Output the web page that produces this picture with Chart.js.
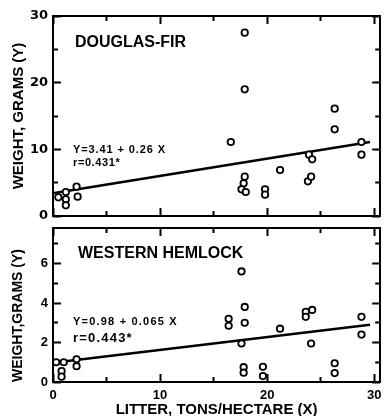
<!DOCTYPE html>
<html>
<head>
<meta charset="utf-8">
<script src="https://cdn.jsdelivr.net/npm/chart.js@4.4.0/dist/chart.umd.min.js"></script>
<style>
body { margin: 0; background: #fff; }
#wrap { position: relative; width: 386px; height: 416px; overflow: hidden; background: #fff; }
canvas { position: absolute; left: 0; }
#top-chart { top: 0; }
#bottom-chart { top: 212px; }
.note { position: absolute; font-family: 'Liberation Sans', Arial, sans-serif; font-weight: bold; color: #000; line-height: 1; white-space: nowrap; }
</style>
</head>
<body>
<div id="wrap">
<canvas id="top-chart" width="386" height="232"></canvas>
<canvas id="bottom-chart" width="386" height="204"></canvas>
<div class="note" style="left:75px;top:34px;font-size:16px;">DOUGLAS-FIR</div>
<div class="note" style="left:73px;top:144px;font-size:11px;letter-spacing:0.9px;">Y=3.41 + 0.26 X</div>
<div class="note" style="left:73px;top:157px;font-size:11px;letter-spacing:0.6px;">r=0.431*</div>
<div class="note" style="left:78px;top:245px;font-size:16px;">WESTERN HEMLOCK</div>
<div class="note" style="left:73px;top:316px;font-size:11px;letter-spacing:1.2px;">Y=0.98 + 0.065 X</div>
<div class="note" style="left:73px;top:331px;font-size:13px;letter-spacing:1.2px;">r=0.443*</div>
</div>
<script>
// litter (tons/hectare) vs weight (grams)
const dfX = [0.5, 1.2, 1.2, 1.2, 2.2, 2.3, 16.6, 17.9, 17.9, 17.9, 17.8, 17.6, 18.0, 19.8, 19.8, 21.2, 23.8, 24.1, 23.9, 24.2, 26.3, 26.3, 28.8, 28.8];
const dfY = [2.8, 3.6, 2.5, 1.6, 4.4, 2.9, 11.1, 27.5, 19.0, 5.9, 4.9, 4.0, 3.6, 4.0, 3.2, 6.9, 5.2, 5.9, 9.2, 8.5, 16.1, 13.0, 11.1, 9.2];
const dfFitX = [0, 29.6];
const dfFitY = [3.4, 11.1];

const whX = [0.3, 1.0, 0.8, 0.8, 2.2, 2.2, 16.4, 16.4, 17.6, 17.9, 17.9, 17.6, 17.8, 17.8, 19.6, 19.6, 21.2, 23.6, 23.6, 24.2, 24.1, 26.3, 26.3, 28.8, 28.8];
const whY = [1.0, 1.0, 0.55, 0.27, 1.15, 0.8, 3.2, 2.85, 5.6, 3.8, 3.0, 1.95, 0.75, 0.47, 0.77, 0.3, 2.7, 3.55, 3.3, 3.65, 1.95, 0.95, 0.45, 3.3, 2.4];
const whFitX = [0, 29.6];
const whFitY = [0.98, 2.9];

const xTicks = [0, 10, 20, 30];
const xMinorTicks = [5, 15, 25];
const dfYTicks = [0, 10, 20, 30];
const dfYMinorTicks = [5, 15, 25];
const whYTicks = [0, 2, 4, 6];
const whYMinorTicks = [1, 3, 5, 7];

const xMax = 30.55;

const toPoints = (xs, ys) => xs.map((x, i) => ({ x: x, y: ys[i] }));

const zeroSize = (s, horiz) => {
    if (horiz) { s.height = 0; } else { s.width = 0; }
    s.paddingLeft = 0; s.paddingRight = 0; s.paddingTop = 0; s.paddingBottom = 0;
};

// frame line only (top and right sides)
const frameAxis = (pos, min, max, horiz) => ({
    type: 'linear',
    position: pos,
    min: min,
    max: max,
    grid: { display: false, drawTicks: false },
    border: { display: true, color: '#000', width: 2 },
    ticks: { display: false },
    afterFit: s => zeroSize(s, horiz)
});

// tick marks only; negative tickLength turns them into the plot
const tickAxis = (pos, vals, len, min, max, horiz) => ({
    type: 'linear',
    position: pos,
    weight: -1,
    min: min,
    max: max,
    grid: { display: true, drawOnChartArea: false, drawTicks: true, tickLength: -len, tickWidth: 2, tickColor: '#000' },
    border: { display: false },
    ticks: { display: false },
    afterBuildTicks: s => { s.ticks = vals.map(v => ({ value: v })); },
    afterFit: s => zeroSize(s, horiz)
});

const makeChart = (id, cfg) => new Chart(document.getElementById(id), {
    type: 'scatter',
    data: {
        datasets: [
            {
                type: 'line',
                data: toPoints(cfg.fitX, cfg.fitY),
                borderColor: '#000',
                borderWidth: 2.5,
                pointRadius: 0,
                showLine: true,
                clip: false,
                order: 2
            },
            {
                data: toPoints(cfg.xs, cfg.ys),
                borderColor: '#000',
                backgroundColor: '#fff',
                borderWidth: 1.8,
                pointRadius: 3.2,
                clip: false,
                order: 1
            }
        ]
    },
    options: {
        responsive: false,
        devicePixelRatio: 1,
        animation: false,
        layout: { padding: cfg.padding },
        plugins: {
            legend: { display: false },
            tooltip: { enabled: false }
        },
        scales: {
            x: {
                type: 'linear',
                min: 0,
                max: xMax,
                grid: { display: false, drawTicks: false },
                border: { display: true, color: '#000', width: 2 },
                ticks: {
                    display: cfg.showX,
                    color: '#000',
                    padding: 6,
                    font: { family: "'Liberation Sans', Arial, sans-serif", size: 13, weight: 'bold' }
                },
                title: {
                    display: cfg.showX,
                    text: 'LITTER, TONS/HECTARE (X)',
                    color: '#000',
                    padding: { top: 0, bottom: -1 },
                    font: { family: "'Liberation Sans', Arial, sans-serif", size: 15, weight: 'bold', lineHeight: 1 }
                },
                afterBuildTicks: s => { s.ticks = xTicks.map(v => ({ value: v })); },
                afterFit: s => { s.height = cfg.xHeight; s.paddingLeft = 0; s.paddingRight = 0; }
            },
            xTop: frameAxis('top', 0, xMax, true),
            xBottomMajor: tickAxis('bottom', xTicks, 8, 0, xMax, true),
            xBottomMinor: tickAxis('bottom', xMinorTicks, 5, 0, xMax, true),
            xTopMajor: tickAxis('top', xTicks, 8, 0, xMax, true),
            xTopMinor: tickAxis('top', xMinorTicks, 5, 0, xMax, true),
            y: {
                type: 'linear',
                min: 0,
                max: cfg.yMax,
                grid: { display: false, drawTicks: false },
                border: { display: true, color: '#000', width: 2 },
                ticks: {
                    color: '#000',
                    padding: 5,
                    font: { family: cfg.yFont, size: 13, weight: 'bold' }
                },
                title: {
                    display: true,
                    text: cfg.yTitle,
                    color: '#000',
                    align: cfg.yAlign,
                    padding: { top: 10, bottom: 0 },
                    font: { family: "'Liberation Sans', Arial, sans-serif", size: cfg.yTitleSize, weight: 'bold' }
                },
                afterBuildTicks: s => { s.ticks = cfg.yTicks.map(v => ({ value: v })); },
                afterFit: s => { s.width = 53; s.paddingTop = 0; s.paddingBottom = 0; }
            },
            yRight: frameAxis('right', 0, cfg.yMax, false),
            yLeftMajor: tickAxis('left', cfg.yTicks, 8, 0, cfg.yMax, false),
            yLeftMinor: tickAxis('left', cfg.yMinor, 5, 0, cfg.yMax, false),
            yRightMajor: tickAxis('right', cfg.yTicks, 8, 0, cfg.yMax, false),
            yRightMinor: tickAxis('right', cfg.yMinor, 5, 0, cfg.yMax, false)
        }
    }
});

makeChart('top-chart', {
    xs: dfX, ys: dfY, fitX: dfFitX, fitY: dfFitY,
    yMax: 30, yTicks: dfYTicks, yMinor: dfYMinorTicks,
    yTitle: 'WEIGHT, GRAMS (Y)', yTitleSize: 15, yAlign: 'center',
    yFont: "'DejaVu Sans', sans-serif",
    showX: false, xHeight: 0,
    padding: { top: 16, left: 0, right: 0, bottom: 16 }
});

makeChart('bottom-chart', {
    xs: whX, ys: whY, fitX: whFitX, fitY: whFitY,
    yMax: 7.8, yTicks: whYTicks, yMinor: whYMinorTicks,
    yTitle: 'WEIGHT,GRAMS (Y)', yTitleSize: 14, yAlign: 'start',
    yFont: "'Liberation Sans', Arial, sans-serif",
    showX: true, xHeight: 34,
    padding: { top: 16, left: 0, right: 0, bottom: 0 }
});
</script>
</body>
</html>
